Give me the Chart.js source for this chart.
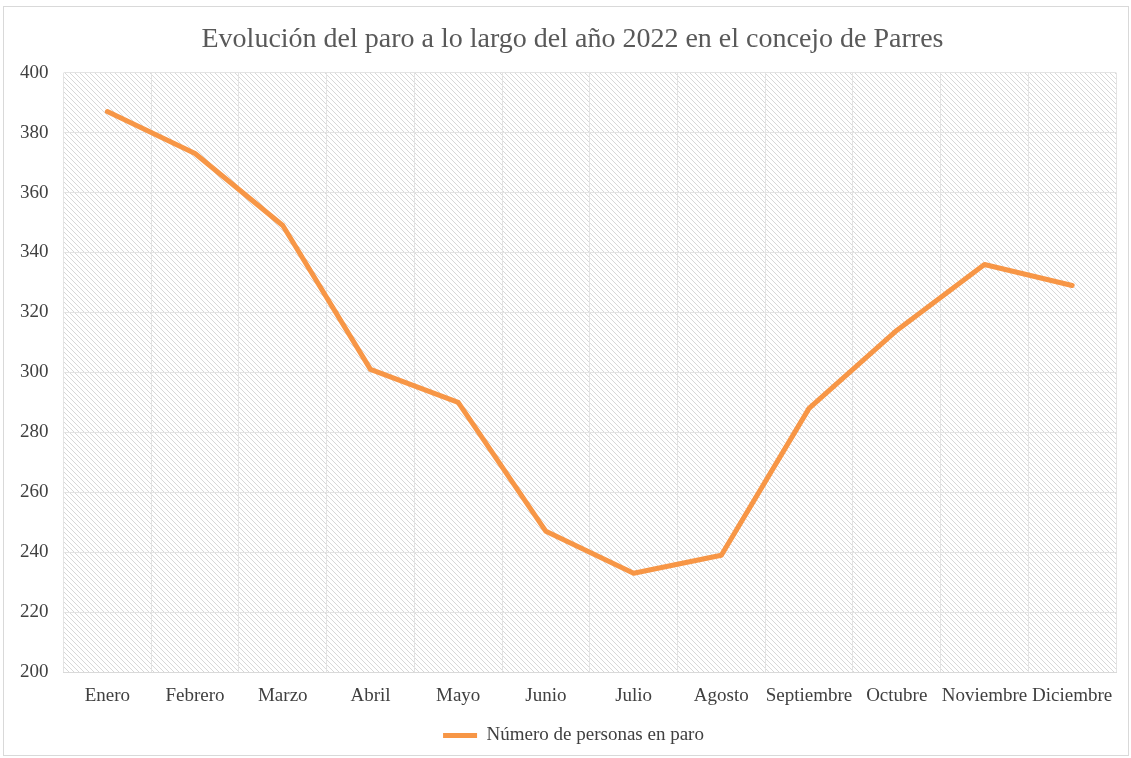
<!DOCTYPE html>
<html>
<head>
<meta charset="utf-8">
<script src="https://cdn.jsdelivr.net/npm/chart.js@4"></script>
<style>
  body { margin: 0; background: #fff; }
  #wrap { position: absolute; left: 3px; top: 6px; width: 1124px; height: 748px; border: 1px solid #d9d9d9; }
</style>
</head>
<body>
<div id="wrap"><canvas id="chart"></canvas></div>
<script>
const meses = ['Enero', 'Febrero', 'Marzo', 'Abril', 'Mayo', 'Junio', 'Julio', 'Agosto', 'Septiembre', 'Octubre', 'Noviembre', 'Diciembre'];
const parados = [387, 373, 349, 301, 290, 247, 233, 239, 288, 314, 336, 329];
const yTicks = [200, 220, 240, 260, 280, 300, 320, 340, 360, 380, 400];

function makeHatch() {
    const c = document.createElement('canvas');
    c.width = 5; c.height = 5;
    const g = c.getContext('2d');
    g.strokeStyle = '#d8d8d8';
    g.lineWidth = 1;
    g.beginPath();
    g.moveTo(-1, -1); g.lineTo(6, 6);
    g.moveTo(-1, 4); g.lineTo(1, 6);
    g.moveTo(4, -1); g.lineTo(6, 1);
    g.stroke();
    return c;
}

const hatchBg = {
    id: 'hatchBg',
    afterLayout(chart) {
        // nudge title and legend right, the original centres them a bit off the canvas middle
        if (chart.titleBlock) { chart.titleBlock.left += 12; chart.titleBlock.right += 12; }
        if (chart.legend) { chart.legend.left += 13; chart.legend.right += 13; }
    },
    beforeDraw(chart) {
        const { ctx, chartArea: a } = chart;
        ctx.save();
        ctx.fillStyle = ctx.createPattern(makeHatch(), 'repeat');
        ctx.fillRect(a.left, a.top, a.right - a.left, a.bottom - a.top);
        ctx.restore();
    }
};

const serif = 'Liberation Serif';

new Chart(document.getElementById('chart'), {
    type: 'line',
    data: {
        labels: meses,
        datasets: [{
            label: 'Número de personas en paro',
            data: parados,
            borderColor: '#f79646',
            backgroundColor: '#f79646',
            borderWidth: 5,
            pointRadius: 0,
            borderCapStyle: 'round',
            borderJoinStyle: 'round',
            tension: 0
        }]
    },
    options: {
        responsive: true,
        maintainAspectRatio: false,
        animation: false,
        layout: { padding: { left: 1, right: 12, top: 9, bottom: 0 } },
        plugins: {
            title: {
                display: true,
                text: 'Evolución del paro a lo largo del año 2022 en el concejo de Parres',
                color: '#595959',
                font: { family: serif, size: 28, weight: 'normal' },
                padding: { top: 7, bottom: 16 }
            },
            legend: {
                position: 'bottom',
                labels: {
                    color: '#404040',
                    font: { family: serif, size: 19 },
                    usePointStyle: true,
                    pointStyle: 'line',
                    pointStyleWidth: 34,
                    padding: 7
                }
            },
            tooltip: { enabled: false }
        },
        scales: {
            x: {
                offset: true,
                grid: { color: '#e3e3e3', offset: true, drawTicks: false },
                border: { color: '#d9d9d9' },
                ticks: {
                    color: '#404040',
                    font: { family: serif, size: 19 },
                    autoSkip: false,
                    maxRotation: 0,
                    padding: 12
                }
            },
            y: {
                min: 200,
                max: 400,
                afterBuildTicks: axis => { axis.ticks = yTicks.map(v => ({ value: v })); },
                grid: { color: '#e3e3e3', drawTicks: false },
                border: { display: false },
                ticks: {
                    color: '#404040',
                    font: { family: serif, size: 19 },
                    padding: 15
                }
            }
        }
    },
    plugins: [hatchBg]
});
</script>
</body>
</html>
